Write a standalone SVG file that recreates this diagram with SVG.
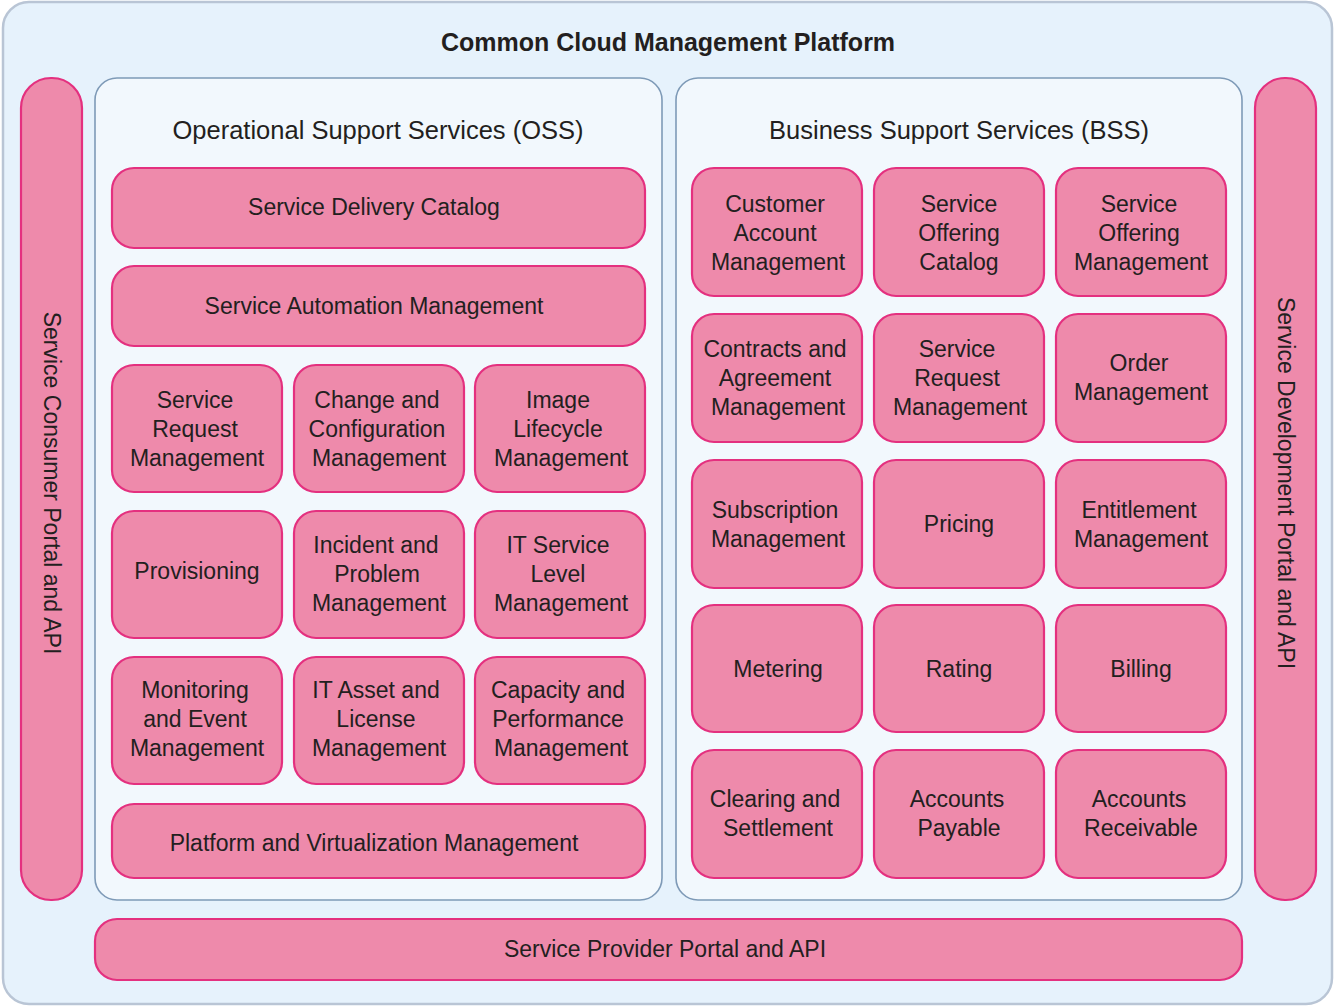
<svg xmlns="http://www.w3.org/2000/svg" width="1335" height="1006" viewBox="0 0 1335 1006">
  <style>
    .frame { fill: #E6F2FC; stroke: #B9C5D5; stroke-width: 2.5; }
    .panel { fill: #F2F8FD; stroke: #7E9AB7; stroke-width: 1.6; }
    .box { fill: #EE8AAB; stroke: #E4307F; stroke-width: 2.2; }
    text { font-family: "Liberation Sans", Arial, sans-serif; fill: #231F20; text-anchor: middle; }
    .lbl { font-size: 23px; }
    .hdr { font-size: 25.5px; }
    .title { font-size: 25px; font-weight: bold; }
  </style>

  <!-- platform frame -->
  <rect class="frame" x="3" y="2" width="1329" height="1002" rx="26"/>
  <text class="title" x="668" y="51">Common Cloud Management Platform</text>

  <!-- side and bottom portals -->
  <g id="consumer-portal">
    <rect class="box" x="21" y="78" width="61" height="822" rx="30"/>
    <text class="lbl" transform="translate(44 483) rotate(90)">Service Consumer Portal and API</text>
  </g>
  <g id="development-portal">
    <rect class="box" x="1255" y="78" width="61" height="822" rx="30"/>
    <text class="lbl" transform="translate(1278 483) rotate(90)">Service Development Portal and API</text>
  </g>
  <g id="provider-portal">
    <rect class="box" x="95" y="919" width="1147" height="61" rx="22"/>
    <text class="lbl" x="665" y="957">Service Provider Portal and API</text>
  </g>

  <!-- OSS panel -->
  <g id="oss">
    <rect class="panel" x="95" y="78" width="567" height="822" rx="22"/>
    <text class="hdr" x="378" y="139">Operational Support Services (OSS)</text>
  </g>
  <g id="oss-delivery-catalog">
    <rect class="box" x="112" y="168" width="533" height="80" rx="22"/>
    <text class="lbl" x="374" y="215">Service Delivery Catalog</text>
  </g>
  <g id="oss-automation">
    <rect class="box" x="112" y="266" width="533" height="80" rx="22"/>
    <text class="lbl" x="374" y="314">Service Automation Management</text>
  </g>
  <g id="oss-service-request">
    <rect class="box" x="112" y="365" width="170" height="127" rx="22"/>
    <text class="lbl" x="197" y="408"><tspan x="195">Service</tspan><tspan x="195" dy="29">Request</tspan><tspan x="197" dy="29">Management</tspan></text>
  </g>
  <g id="oss-change-config">
    <rect class="box" x="294" y="365" width="170" height="127" rx="22"/>
    <text class="lbl" x="377" y="408"><tspan x="377">Change and</tspan><tspan x="377" dy="29">Configuration</tspan><tspan x="379" dy="29">Management</tspan></text>
  </g>
  <g id="oss-image-lifecycle">
    <rect class="box" x="475" y="365" width="170" height="127" rx="22"/>
    <text class="lbl" x="558" y="408"><tspan x="558">Image</tspan><tspan x="558" dy="29">Lifecycle</tspan><tspan x="561" dy="29">Management</tspan></text>
  </g>
  <g id="oss-provisioning">
    <rect class="box" x="112" y="511" width="170" height="127" rx="22"/>
    <text class="lbl" x="197" y="579">Provisioning</text>
  </g>
  <g id="oss-incident-problem">
    <rect class="box" x="294" y="511" width="170" height="127" rx="22"/>
    <text class="lbl" x="377" y="553"><tspan x="376">Incident and</tspan><tspan x="377" dy="29">Problem</tspan><tspan x="379" dy="29">Management</tspan></text>
  </g>
  <g id="oss-it-service-level">
    <rect class="box" x="475" y="511" width="170" height="127" rx="22"/>
    <text class="lbl" x="558" y="553"><tspan x="558">IT Service</tspan><tspan x="558" dy="29">Level</tspan><tspan x="561" dy="29">Management</tspan></text>
  </g>
  <g id="oss-monitoring">
    <rect class="box" x="112" y="657" width="170" height="127" rx="22"/>
    <text class="lbl" x="197" y="698"><tspan x="195">Monitoring</tspan><tspan x="195" dy="29">and Event</tspan><tspan x="197" dy="29">Management</tspan></text>
  </g>
  <g id="oss-it-asset">
    <rect class="box" x="294" y="657" width="170" height="127" rx="22"/>
    <text class="lbl" x="377" y="698"><tspan x="376">IT Asset and</tspan><tspan x="376" dy="29">License</tspan><tspan x="379" dy="29">Management</tspan></text>
  </g>
  <g id="oss-capacity">
    <rect class="box" x="475" y="657" width="170" height="127" rx="22"/>
    <text class="lbl" x="558" y="698"><tspan x="558">Capacity and</tspan><tspan x="558" dy="29">Performance</tspan><tspan x="561" dy="29">Management</tspan></text>
  </g>
  <g id="oss-platform-virtualization">
    <rect class="box" x="112" y="804" width="533" height="74" rx="22"/>
    <text class="lbl" x="374" y="851">Platform and Virtualization Management</text>
  </g>

  <!-- BSS panel -->
  <g id="bss">
    <rect class="panel" x="676" y="78" width="566" height="822" rx="22"/>
    <text class="hdr" x="959" y="139">Business Support Services (BSS)</text>
  </g>
  <g id="bss-customer-account">
    <rect class="box" x="692" y="168" width="170" height="128" rx="22"/>
    <text class="lbl" x="775" y="212"><tspan x="775">Customer</tspan><tspan x="775" dy="29">Account</tspan><tspan x="778" dy="29">Management</tspan></text>
  </g>
  <g id="bss-offering-catalog">
    <rect class="box" x="874" y="168" width="170" height="128" rx="22"/>
    <text class="lbl" x="959" y="212"><tspan x="959">Service</tspan><tspan x="959" dy="29">Offering</tspan><tspan x="959" dy="29">Catalog</tspan></text>
  </g>
  <g id="bss-offering-management">
    <rect class="box" x="1056" y="168" width="170" height="128" rx="22"/>
    <text class="lbl" x="1139" y="212"><tspan x="1139">Service</tspan><tspan x="1139" dy="29">Offering</tspan><tspan x="1141" dy="29">Management</tspan></text>
  </g>
  <g id="bss-contracts">
    <rect class="box" x="692" y="314" width="170" height="128" rx="22"/>
    <text class="lbl" x="775" y="357"><tspan x="775">Contracts and</tspan><tspan x="775" dy="29">Agreement</tspan><tspan x="778" dy="29">Management</tspan></text>
  </g>
  <g id="bss-service-request">
    <rect class="box" x="874" y="314" width="170" height="128" rx="22"/>
    <text class="lbl" x="957" y="357"><tspan x="957">Service</tspan><tspan x="957" dy="29">Request</tspan><tspan x="960" dy="29">Management</tspan></text>
  </g>
  <g id="bss-order">
    <rect class="box" x="1056" y="314" width="170" height="128" rx="22"/>
    <text class="lbl" x="1139" y="371"><tspan x="1139">Order</tspan><tspan x="1141" dy="29">Management</tspan></text>
  </g>
  <g id="bss-subscription">
    <rect class="box" x="692" y="460" width="170" height="128" rx="22"/>
    <text class="lbl" x="775" y="518"><tspan x="775">Subscription</tspan><tspan x="778" dy="29">Management</tspan></text>
  </g>
  <g id="bss-pricing">
    <rect class="box" x="874" y="460" width="170" height="128" rx="22"/>
    <text class="lbl" x="959" y="532">Pricing</text>
  </g>
  <g id="bss-entitlement">
    <rect class="box" x="1056" y="460" width="170" height="128" rx="22"/>
    <text class="lbl" x="1139" y="518"><tspan x="1139">Entitlement</tspan><tspan x="1141" dy="29">Management</tspan></text>
  </g>
  <g id="bss-metering">
    <rect class="box" x="692" y="605" width="170" height="127" rx="22"/>
    <text class="lbl" x="778" y="677">Metering</text>
  </g>
  <g id="bss-rating">
    <rect class="box" x="874" y="605" width="170" height="127" rx="22"/>
    <text class="lbl" x="959" y="677">Rating</text>
  </g>
  <g id="bss-billing">
    <rect class="box" x="1056" y="605" width="170" height="127" rx="22"/>
    <text class="lbl" x="1141" y="677">Billing</text>
  </g>
  <g id="bss-clearing">
    <rect class="box" x="692" y="750" width="170" height="128" rx="22"/>
    <text class="lbl" x="775" y="807"><tspan x="775">Clearing and</tspan><tspan x="778" dy="29">Settlement</tspan></text>
  </g>
  <g id="bss-payable">
    <rect class="box" x="874" y="750" width="170" height="128" rx="22"/>
    <text class="lbl" x="957" y="807"><tspan x="957">Accounts</tspan><tspan x="959" dy="29">Payable</tspan></text>
  </g>
  <g id="bss-receivable">
    <rect class="box" x="1056" y="750" width="170" height="128" rx="22"/>
    <text class="lbl" x="1139" y="807"><tspan x="1139">Accounts</tspan><tspan x="1141" dy="29">Receivable</tspan></text>
  </g>

  <!-- no connectors in this layout -->
  <g id="connectors"/>
</svg>
